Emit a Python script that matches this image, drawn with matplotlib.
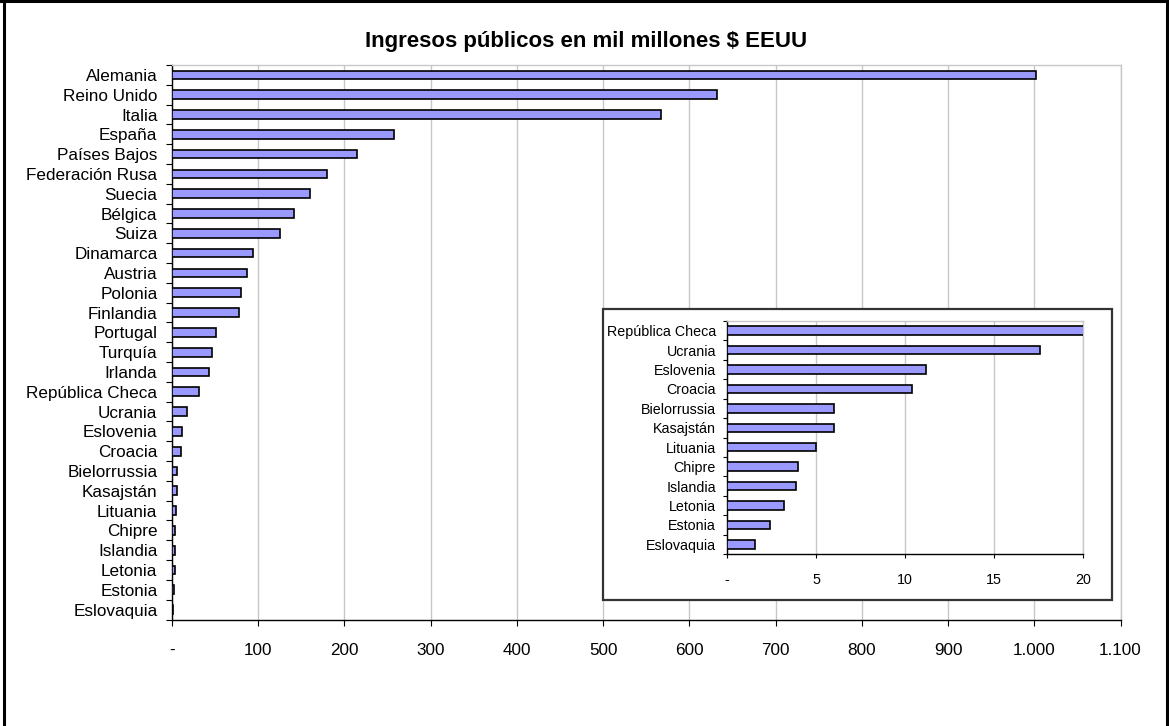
import matplotlib
matplotlib.use("Agg")
import matplotlib.pyplot as plt
from matplotlib.patches import Rectangle
from matplotlib.lines import Line2D
import numpy as np

plt.rcParams['font.family'] = ['Liberation Sans', 'DejaVu Sans']

# Ingresos públicos (mil millones $ EEUU), de mayor a menor
paises = ["Alemania", "Reino Unido", "Italia", "España", "Países Bajos",
          "Federación Rusa", "Suecia", "Bélgica", "Suiza", "Dinamarca",
          "Austria", "Polonia", "Finlandia", "Portugal", "Turquía", "Irlanda",
          "República Checa", "Ucrania", "Eslovenia", "Croacia", "Bielorrussia",
          "Kasajstán", "Lituania", "Chipre", "Islandia", "Letonia", "Estonia",
          "Eslovaquia"]
ingresos = [1002, 632, 567, 257, 214, 180, 160, 141, 125, 94, 87, 80, 78,
            51.5, 46, 42.5, 31, 17.6, 11.2, 10.4, 6.0, 6.0, 5.0, 4.0, 3.9,
            3.2, 2.4, 1.6]

x_ticks = [0, 100, 200, 300, 400, 500, 600, 700, 800, 900, 1000, 1100]
x_labels = ["-", "100", "200", "300", "400", "500", "600", "700", "800",
            "900", "1.000", "1.100"]

# detalle de los países pequeños
n_detalle = 12
x_ticks_det = [0, 5, 10, 15, 20]
x_labels_det = ["-", "5", "10", "15", "20"]

BAR_COLOR = "#9999FF"
GRID_COLOR = "#C8C8C8"

W, H = 1169, 726
fig = plt.figure(figsize=(W / 100, H / 100), dpi=100)
fig.patch.set_facecolor("white")


def px_box(x0, y0, x1, y1):
    return [x0 / W, 1 - y1 / H, (x1 - x0) / W, (y1 - y0) / H]


def barras(ax, nombres, valores, xt, xl, fs, tick_len, ypad, xpad):
    y = np.arange(len(nombres))
    ax.barh(y, valores, height=0.44, color=BAR_COLOR, edgecolor="black",
            linewidth=1.2, zorder=3)
    ax.set_ylim(len(nombres) - 0.5, -0.5)
    ax.set_xlim(xt[0], xt[-1])
    ax.set_yticks(y)
    ax.set_yticklabels(nombres, fontsize=fs)
    ax.set_yticks(np.arange(len(nombres) + 1) - 0.5, minor=True)
    ax.tick_params(axis="y", which="major", length=0, pad=ypad + tick_len)
    ax.tick_params(axis="y", which="minor", length=tick_len, width=0.8,
                   color="black")
    ax.set_xticks(xt)
    ax.set_xticklabels(xl, fontsize=fs)
    ax.tick_params(axis="x", length=tick_len, width=0.8, color="black",
                   pad=xpad)
    ax.grid(axis="x", color=GRID_COLOR, linewidth=1.0, zorder=0)
    ax.set_axisbelow(True)
    for s in ("top", "right"):
        ax.spines[s].set_color(GRID_COLOR)
        ax.spines[s].set_linewidth(1.0)
    for s in ("left", "bottom"):
        ax.spines[s].set_color("black")
        ax.spines[s].set_linewidth(1.0)


# gráfico principal
ax = fig.add_axes(px_box(172, 65, 1120.5, 619.5))
barras(ax, paises, ingresos, x_ticks, x_labels, 12.3, 4.0, 6.5, 13)

# recuadro de detalle
fig.patches.append(Rectangle((603 / W, 1 - 600 / H), (1112 - 603) / W,
                             (600 - 309) / H, transform=fig.transFigure,
                             facecolor="white", edgecolor="#333333",
                             linewidth=1.6, zorder=5))
axd = fig.add_axes(px_box(727, 321, 1083, 554), zorder=6)
barras(axd, paises[-n_detalle:], ingresos[-n_detalle:], x_ticks_det,
       x_labels_det, 10.3, 3.0, 5.0, 11)

fig.text(586 / W, 1 - 42 / H, "Ingresos públicos en mil millones $ EEUU",
         ha="center", va="center", fontsize=16, fontweight="bold")

# marco exterior
for xs, ys in [((4 / W, 4 / W), (0, 1)),
               ((1167 / W, 1167 / W), (0, 1)),
               ((0, 1), (1 - 1.2 / H, 1 - 1.2 / H))]:
    fig.lines.append(Line2D(xs, ys, transform=fig.transFigure,
                            color="black", linewidth=2.2))

fig.savefig("out.png", dpi=100, facecolor="white")
